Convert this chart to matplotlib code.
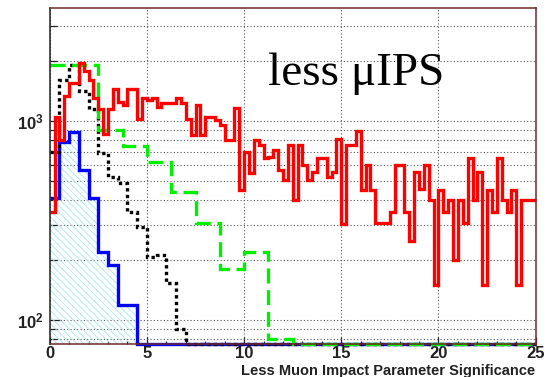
import numpy as np
import matplotlib
matplotlib.use("Agg")
import matplotlib.pyplot as plt
from matplotlib.ticker import FixedLocator, NullFormatter, FixedFormatter, MultipleLocator

# ---------------- data ----------------
x_range = (0.0, 25.0)

# red histogram: 100 bins of width 0.25
red_counts = [350, 1050, 800, 1330, 1550, 1550, 1950, 1780, 1600, 1300,
              1150, 860, 1150, 1450, 1250, 1200, 1450, 1450, 1020, 1300,
              1270, 1300, 1180, 1230, 1230, 1230, 1300, 1230, 1020, 850,
              1200, 850, 1050, 1050, 1010, 955, 800, 800, 1160, 450,
              700, 546, 803, 758, 649, 660, 715, 570, 505, 758,
              401, 758, 600, 505, 556, 650, 650, 520, 556, 810,
              305, 758, 758, 890, 450, 601, 450, 306, 306, 306,
              350, 601, 601, 350, 248, 556, 455, 601, 401, 150,
              450, 350, 401, 200, 401, 306, 650, 401, 556, 150,
              450, 350, 650, 401, 350, 450, 150, 401, 401, 401]

# green histogram: 20 bins of width 1.25
green_counts = [1910, 1900, 905, 745, 625, 440, 306, 180, 220, 80,
                0, 0, 0, 0, 0, 0, 0, 0, 0, 0]

# black histogram: 50 bins of width 0.5
black_counts = [700, 1600, 1910, 1420, 1150, 690, 525, 486, 350, 294,
                208, 212, 154, 90] + [0] * 36

# blue histogram: 50 bins of width 0.5
blue_counts = [409, 787, 884, 567, 409, 220, 189, 119, 119] + [0] * 41

x_ticks = [0, 5, 10, 15, 20, 25]
x_tick_labels = ["0", "5", "10", "15", "20", "25"]
y_ticks = [100, 1000]
y_tick_labels = [r"$\mathbf{10^{2}}$", r"$\mathbf{10^{3}}$"]
y_minor = [80, 90, 200, 300, 400, 500, 600, 700, 800, 900, 2000, 3000]

x_label = "Less Muon Impact Parameter Significance"
annotation = "less \u03bcIPS"

ylim = (75.7, 3680)

# ---------------- styling ----------------
plt.rcParams["font.family"] = ["Liberation Sans", "DejaVu Sans"]
plt.rcParams["mathtext.fontset"] = "custom"
plt.rcParams["mathtext.rm"] = "Liberation Sans"
plt.rcParams["mathtext.bf"] = "Liberation Sans:bold"
plt.rcParams["hatch.linewidth"] = 0.6

W, H = 550, 377
fig = plt.figure(figsize=(W / 100, H / 100), dpi=100)
fig.patch.set_facecolor("white")
ax = fig.add_axes([49.7 / W, 33 / H, 486 / W, 335.7 / H])
ax.set_yscale("log")
ax.set_xlim(*x_range)
ax.set_ylim(*ylim)


def edges_for(counts):
    return np.linspace(x_range[0], x_range[1], len(counts) + 1)


def floored(counts):
    return np.maximum(np.asarray(counts, dtype=float), ylim[0])


# grid
ax.set_axisbelow(True)
ax.xaxis.set_major_locator(FixedLocator(x_ticks))
ax.xaxis.set_major_formatter(FixedFormatter(x_tick_labels))
ax.xaxis.set_minor_locator(MultipleLocator(1))
ax.yaxis.set_major_locator(FixedLocator(y_ticks))
ax.yaxis.set_major_formatter(FixedFormatter(y_tick_labels))
ax.yaxis.set_minor_locator(FixedLocator(y_minor))
ax.yaxis.set_minor_formatter(NullFormatter())

grid_kw = dict(color="#555555", linewidth=0.8, linestyle=(0, (1, 2)))
ax.grid(True, which="major", axis="x", **grid_kw)
ax.grid(True, which="both", axis="y", **grid_kw)

# blue hatched fill
blue_e = edges_for(blue_counts)
ax.stairs(floored(blue_counts), blue_e, baseline=ylim[0], fill=True,
          facecolor="none", edgecolor="#a6e6f2", hatch="\\\\\\\\\\",
          linewidth=0, zorder=2)

lw = 2.4
ax.stairs(floored(blue_counts), blue_e, baseline=None, color="#0000ff",
          linewidth=lw, zorder=3, clip_on=False)
ax.stairs(floored(black_counts), edges_for(black_counts), baseline=None,
          color="black", linewidth=lw, linestyle=(0, (1, 1)), zorder=4,
          clip_on=False)
ax.stairs(floored(green_counts), edges_for(green_counts), baseline=None,
          color="#00ee00", linewidth=lw, linestyle=(0, (4.5, 2)), zorder=5,
          clip_on=False)
ax.stairs(floored(red_counts), edges_for(red_counts), baseline=None,
          color="#ff0000", linewidth=lw, zorder=6, clip_on=False)

# frame
for side in ["top", "right", "bottom"]:
    ax.spines[side].set_color("#6e2a2a")
    ax.spines[side].set_linewidth(1.1)
ax.spines["left"].set_color("#222222")
ax.spines["left"].set_linewidth(1.1)
for s in ax.spines.values():
    s.set_zorder(7)

ax.tick_params(axis="both", which="both", direction="in", top=False,
               right=False, colors="#222222")
ax.tick_params(axis="x", which="major", length=5, width=0.9, pad=1.5,
               labelsize=12)
ax.tick_params(axis="x", which="minor", length=2.5, width=0.9)
ax.tick_params(axis="y", which="major", length=8, width=0.9, pad=4,
               labelsize=12)
ax.tick_params(axis="y", which="minor", length=5, width=0.9)
for lab in ax.get_xticklabels():
    lab.set_fontweight("bold")
    lab.set_color("#222222")
for lab in ax.get_yticklabels():
    lab.set_color("#222222")

# texts
fig.text(535 / W, 1 - 374.5 / H, x_label, ha="right", va="baseline",
         fontsize=10.5, fontweight="bold", color="#222222")
fig.text(268 / W, 1 - 85 / H, annotation, ha="left", va="baseline",
         fontsize=34, family=["Liberation Serif", "DejaVu Serif"],
         color="black")

fig.savefig("out.png", dpi=100, facecolor="white")
